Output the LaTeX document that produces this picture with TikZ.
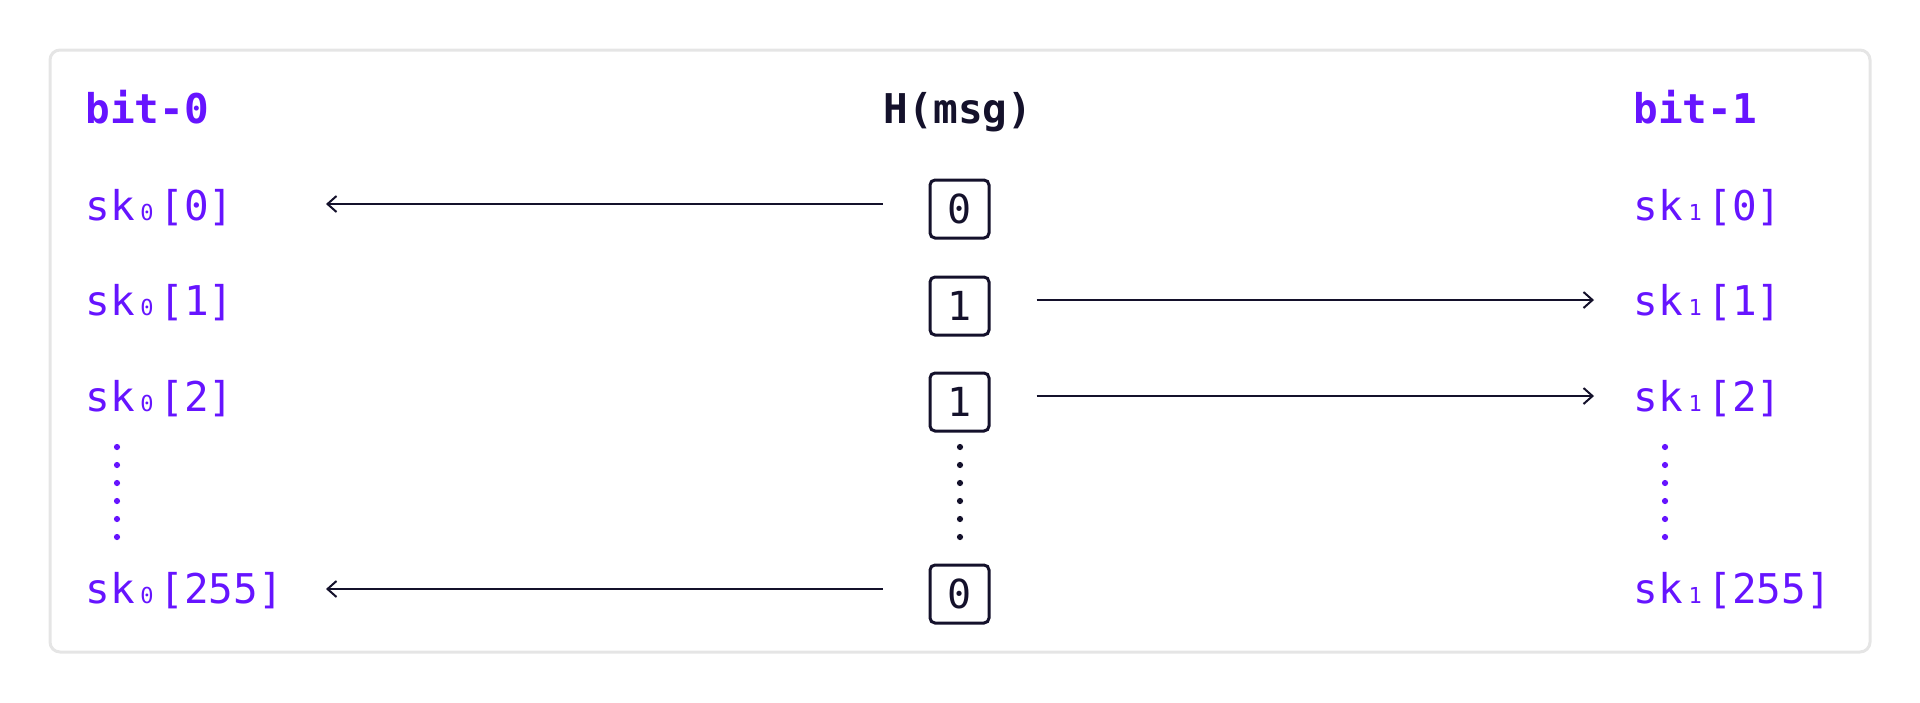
\documentclass[tikz,border=0pt]{standalone}
\usepackage{fontspec}
\setmonofont{DejaVu Sans Mono}
\usetikzlibrary{arrows.meta}
\definecolor{purp}{HTML}{6614FF}
\definecolor{ink}{HTML}{14112B}
\definecolor{frame}{HTML}{E5E5E5}
\newcommand\subd[1]{\makebox[0.602em][c]{\fontsize{11pt}{11pt}\selectfont #1}}
\tikzset{
  lbl/.style={inner sep=0pt, anchor=base west, text=purp, font=\ttfamily\fontsize{20.5pt}{20.5pt}\selectfont},
  head/.style={inner sep=0pt, anchor=base west, text=purp, font=\ttfamily\bfseries\fontsize{20.5pt}{20.5pt}\selectfont},
  bitbox/.style={draw=ink, line width=1.5pt, rounded corners=2.5pt, minimum width=29.5pt, minimum height=29pt, inner sep=0pt, text=ink, font=\ttfamily\fontsize{20pt}{20pt}\selectfont},
  arr/.style={draw=ink, line width=1pt, -{Straight Barb[length=4.5pt, width=8pt, line width=1pt]}},
  pdot/.style={fill=purp},
  kdot/.style={fill=ink}
}
\begin{document}
\begin{tikzpicture}[x=0.5pt, y=-0.5pt]
\useasboundingbox (0,0) rectangle (1920,702);
\draw[frame, line width=1.5pt, rounded corners=5pt] (50,50) rectangle (1870,652);

% headings
\node[head] (h0) at (85,123) {bit-0};
\node[inner sep=0pt, anchor=base, text=ink, font=\ttfamily\bfseries\fontsize{20.5pt}{20.5pt}\selectfont] (hm) at (958,123) {H(msg)};
\node[head] (h1) at (1633,123) {bit-1};

% left column
\node[lbl] (a0) at (85,220) {sk\subd{0}[0]};
\node[lbl] (a1) at (85,315) {sk\subd{0}[1]};
\node[lbl] (a2) at (85,411) {sk\subd{0}[2]};
\node[lbl] (a255) at (85,603) {sk\subd{0}[255]};

% right column
\node[lbl] (c0) at (1633,220) {sk\subd{1}[0]};
\node[lbl] (c1) at (1633,315) {sk\subd{1}[1]};
\node[lbl] (c2) at (1633,411) {sk\subd{1}[2]};
\node[lbl] (c255) at (1633,603) {sk\subd{1}[255]};

% bit boxes
\node[bitbox] (b0) at (959.5,209) {0};
\node[bitbox] (b1) at (959.5,306) {1};
\node[bitbox] (b2) at (959.5,402) {1};
\node[bitbox] (b255) at (959.5,594) {0};

% arrow tips
\coordinate (t0) at (326,204);
\coordinate (t1) at (1594,300);
\coordinate (t2) at (1594,396);
\coordinate (t255) at (326,589);

\draw[arr] ([shift={(-46,-5)}]b0.west) -- (t0);
\draw[arr] ([shift={(46,-6)}]b1.east) -- (t1);
\draw[arr] ([shift={(46,-6)}]b2.east) -- (t2);
\draw[arr] ([shift={(-46,-5)}]b255.west) -- (t255);

% vertical dots
\foreach \yy in {447,465,483,501,519,537} {
  \fill[pdot] (117,\yy) circle[radius=1.55pt];
  \fill[kdot] (960,\yy) circle[radius=1.55pt];
  \fill[pdot] (1665,\yy) circle[radius=1.55pt];
}
\end{tikzpicture}
\end{document}
